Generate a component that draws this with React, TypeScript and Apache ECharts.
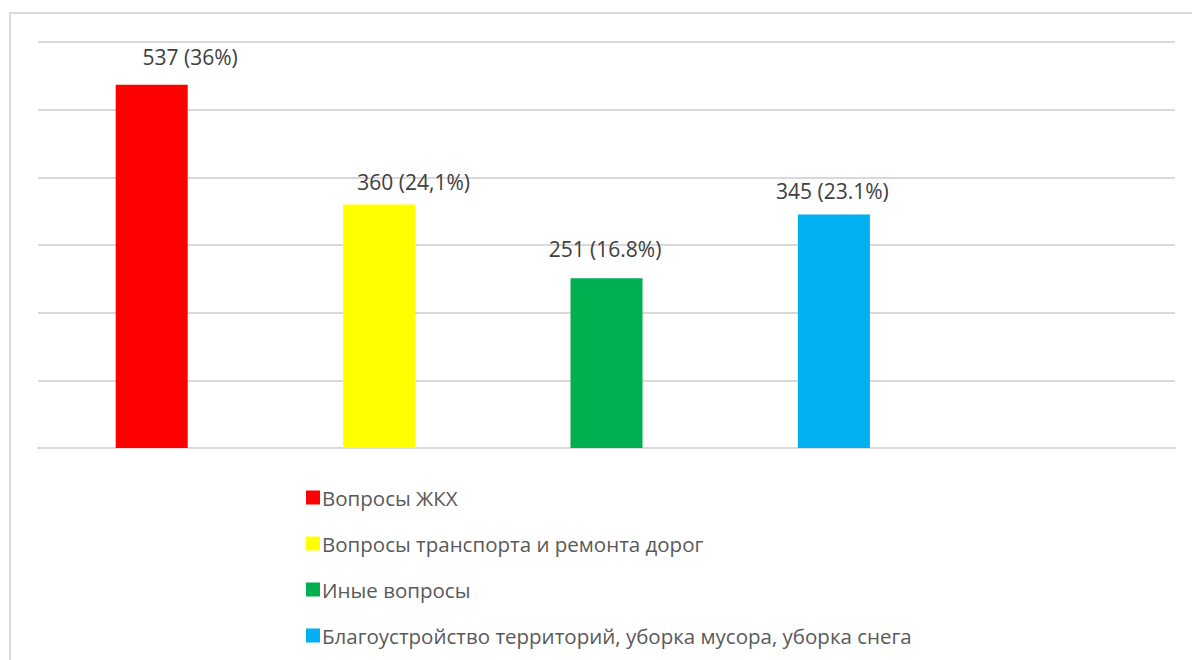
import React, { useEffect, useRef } from "react";
import * as echarts from "echarts";

const categories = ["c1", "c2", "c3", "c4", "c5"];
const seriesNames = [
  "Вопросы ЖКХ",
  "Вопросы транспорта и ремонта дорог",
  "Иные вопросы",
  "Благоустройство территорий, уборка мусора, уборка снега",
];
const seriesValues = [537, 360, 251, 345];
const seriesLabels = ["537 (36%)", "360 (24,1%)", "251 (16.8%)", "345 (23.1%)"];
const seriesColors = ["#ff0000", "#ffff00", "#00b050", "#00b0f0"];
// manual label placement (as in the source chart), in px
const labelOffsets = [
  [38.5, -17],
  [34.5, -11.5],
  [-1.5, -19],
  [-1.5, -13.5],
];

export default function App() {
  const ref = useRef<HTMLDivElement>(null);
  useEffect(() => {
    document.body.style.margin = "0";
    const chart = echarts.init(ref.current!, undefined, { renderer: "svg" });
    const font = "'Open Sans', 'DejaVu Sans', sans-serif";
    chart.setOption({
      animation: false,
      backgroundColor: "#ffffff",
      textStyle: { fontFamily: font },
      grid: { left: 38, right: 17, top: 42, bottom: 212, containLabel: false },
      xAxis: {
        type: "category",
        data: categories,
        axisLine: { lineStyle: { color: "#d9d9d9", width: 2 } },
        axisTick: { show: false },
        axisLabel: { show: false },
      },
      yAxis: {
        type: "value",
        min: 0,
        max: 600,
        interval: 100,
        axisLabel: { show: false },
        axisLine: { show: false },
        axisTick: { show: false },
        splitLine: { lineStyle: { color: "#d9d9d9", width: 2 } },
      },
      legend: {
        orient: "vertical",
        left: 301,
        top: 482,
        itemWidth: 14,
        itemHeight: 14,
        itemGap: 25,
        icon: "rect",
        data: seriesNames,
        textStyle: {
          fontSize: 20.5,
          lineHeight: 19,
          color: "#595959",
          fontFamily: font,
          padding: [0, 0, 0, -3],
        },
      },
      graphic: [
        {
          type: "rect",
          shape: { x: 10, y: 13, width: 1200, height: 700 },
          style: { fill: "none", stroke: "#d9d9d9", lineWidth: 2 },
          silent: true,
        },
      ],
      series: seriesNames.map((name, i) => ({
        name,
        type: "bar",
        stack: "all",
        barWidth: 72,
        itemStyle: { color: seriesColors[i] },
        label: {
          show: true,
          position: "top",
          distance: 0,
          offset: labelOffsets[i],
          formatter: () => seriesLabels[i],
          fontSize: 21,
          color: "#404040",
          fontFamily: font,
        },
        data: categories.map((_, j) => (j === i ? seriesValues[i] : "-")),
      })),
    });
    return () => chart.dispose();
  }, []);
  return <div ref={ref} style={{ width: 1192, height: 660 }} />;
}
